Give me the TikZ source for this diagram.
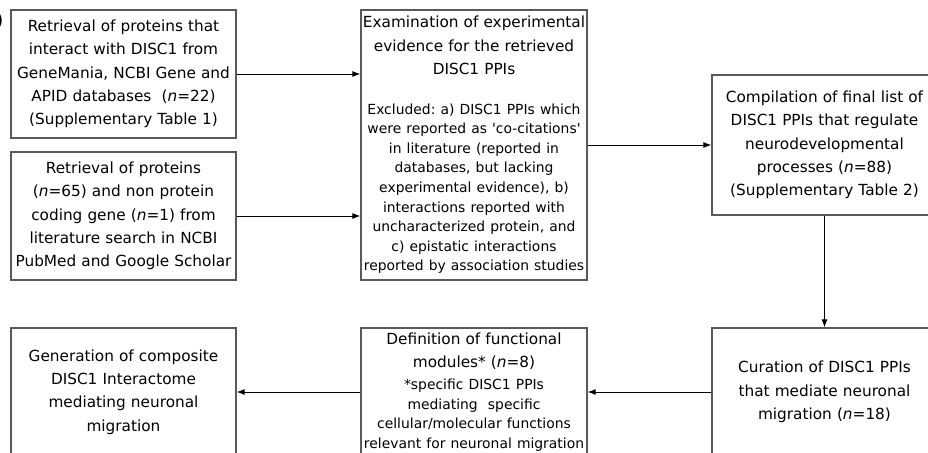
\documentclass[tikz,border=0pt]{standalone}
\usepackage{fontspec}
\setmainfont{DejaVu Sans}
\usetikzlibrary{arrows.meta}
\frenchspacing
\newcommand{\nn}{\textit{n}}
\newcommand{\smallfs}{\fontsize{13.9}{19.6}\selectfont}
\begin{document}
\begin{tikzpicture}[x=1pt,y=-1pt,
  box/.style={draw=black!65, line width=1.2pt, align=center, inner sep=0pt, text width=225pt,
    minimum width=225pt, minimum height=128pt, font=\fontsize{15.3}{23.3}\selectfont},
  arr/.style={-{Latex[length=8pt,width=6pt]}, line width=1pt, black}]
\useasboundingbox (0,0) rectangle (928,452);
\node[anchor=east, inner sep=0pt, font=\fontsize{18}{18}\selectfont] (lbl) at (3.5,21) {b)};
\node[box] (b1) at (123.5,74) {Retrieval of proteins that\\interact with DISC1 from\\GeneMania, NCBI Gene and\\APID databases\ \ (\nn=22)\\(Supplementary Table 1)};
\node[box] (b2) at (123.5,216) {Retrieval of proteins\\(\nn=65) and non protein\\coding gene (\nn=1) from\\literature search in NCBI\\PubMed and Google Scholar};
\node[box, text width=226pt, minimum width=226pt, minimum height=270pt] (b3) at (474,145) {Examination of experimental\\evidence for the retrieved\\DISC1 PPIs\par\vspace{20pt}
\smallfs Excluded: a) DISC1 PPIs which\\were reported as \textquotesingle co-citations\textquotesingle\\in literature (reported in\\databases, but lacking\\experimental evidence), b)\\interactions reported with\\uncharacterized protein, and\\c) epistatic interactions\\reported by association studies\par};
\node[box, minimum height=140pt] (b4) at (824.5,145) {Compilation of final list of\\DISC1 PPIs that regulate\\neurodevelopmental\\processes (\nn=88)\\(Supplementary Table 2)};
\node[box] (b5) at (824.5,392) {Curation of DISC1 PPIs\\that mediate neuronal\\migration (\nn=18)};
\node[box, text width=226pt, minimum width=226pt] (b6) at (474,392) {Definition of functional\\modules* (\nn=8)\par\vspace{2pt}
\smallfs *specific DISC1 PPIs\\mediating\ \ specific\\cellular/molecular functions\\relevant for neuronal migration\par};
\node[box] (b7) at (123.5,392) {Generation of composite\\DISC1 Interactome\\mediating neuronal\\migration};
\draw[arr] (b1.east) -- (b3.west |- b1.east);
\draw[arr] (b2.east) -- (b3.west |- b2.east);
\draw[arr] (b3.east) -- (b4.west);
\draw[arr] (b4.south) -- (b5.north);
\draw[arr] (b5.west) -- (b6.east);
\draw[arr] (b6.west) -- (b7.east);
\end{tikzpicture}
\end{document}
